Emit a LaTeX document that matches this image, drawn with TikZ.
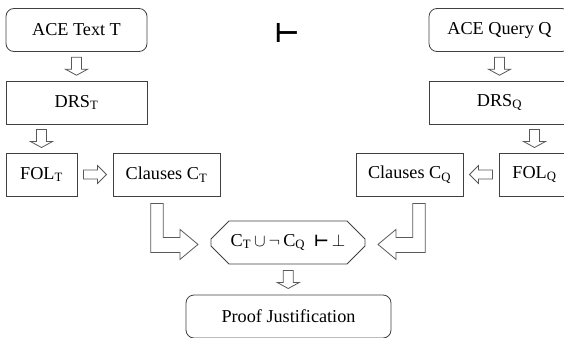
\documentclass[tikz,border=0pt]{standalone}
\usepackage{fontspec}
\setmainfont{Liberation Serif}
\newfontfamily\symfont{DejaVu Sans}
\usetikzlibrary{calc}
\usetikzlibrary{positioning}
\usetikzlibrary{shapes.misc}

\tikzset{
  box/.style={draw=black!75, line width=0.8pt, inner sep=0pt, minimum height=43, font=\fontsize{18.2}{20}\selectfont},
  rbox/.style={box, rounded corners=8pt},
  blockline/.style={draw=black!65, line width=0.8pt, fill=white},
  pics/hollow/.style n args={4}{code={
    \draw[blockline] (-#1/2,-#2) -- ({#1/2-#4},-#2) -- ({#1/2-#4},-#3) -- (#1/2,0)
      -- ({#1/2-#4},#3) -- ({#1/2-#4},#2) -- (-#1/2,#2) -- cycle;}}
}

\begin{document}
\begin{tikzpicture}[x=1pt,y=-1pt]

\useasboundingbox (0,0) rectangle (564,337);

%%%%%%%%%%%%%%%%%%%%%%%%
%Cote texte T
%%%%%%%%%%%%%%%%%%%%%%%%
\node[rbox, minimum width=141] (aceT) at (76.5,30) {ACE Text T};
\node[box, minimum width=141] (drsT) at (76.5,102.5) {DRS\textsubscript{T}};
\node[box, minimum width=71] (folT) at (41.5,174.5) {FOL\textsubscript{T}};
\node[box, minimum width=107] (clT) at (166.5,174.5) {Clauses C\textsubscript{T}};

%%%%%%%%%%%%%%%%%%%%%%%%
%Cote requete Q
%%%%%%%%%%%%%%%%%%%%%%%%
\node[rbox, minimum width=141] (aceQ) at (499.5,30) {ACE Query Q};
\node[box, minimum width=141] (drsQ) at (499.5,102.5) {DRS\textsubscript{Q}};
\node[box, minimum width=71] (folQ) at (534.5,174.5) {FOL\textsubscript{Q}};
\node[box, minimum width=107] (clQ) at (409.5,174.5) {Clauses C\textsubscript{Q}};

% symbole de deduction
\node[font=\fontsize{27}{30}\selectfont\symfont\bfseries] (turn) at (287,33) {⊢};

% preuve
\node[box, chamfered rectangle, chamfered rectangle xsep=8pt, chamfered rectangle ysep=10pt,
  minimum width=154] (core) at (288,242.5)
  {C\textsubscript{T}\,$\cup$\,$\neg$\,C\textsubscript{Q}\ \ {\fontsize{16}{18}\selectfont\symfont\bfseries ⊢}\,$\perp$};
\node[rbox, minimum width=205] (proof) at (288.5,316.5) {Proof Justification};

%%%%%%%%%%%%%%%%%%%%%%%%
%Fleches creuses
%%%%%%%%%%%%%%%%%%%%%%%%
\pic[rotate=-90] at ($(aceT.south)!0.5!(drsT.north)$) {hollow={18}{5}{11}{6}};
\pic[rotate=-90] at ($(folT.north)!0.5!(folT.north|-drsT.south)$) {hollow={18}{5}{11}{6}};
\pic at ($(folT.east)!0.5!(clT.west)$) {hollow={23}{4.5}{9}{9}};
\pic[rotate=-90] at ($(aceQ.south)!0.5!(drsQ.north)$) {hollow={18}{5}{11}{6}};
\pic[rotate=-90] at ($(folQ.north)!0.5!(folQ.north|-drsQ.south)$) {hollow={18}{5}{11}{6}};
\pic[rotate=180] at ($(folQ.west)!0.5!(clQ.east)$) {hollow={23}{4.5}{9}{9}};
\pic[rotate=-90] at ($(core.south)!0.5!(proof.north)$) {hollow={18}{5}{11}{6}};

% fleches coudees vers la preuve
\coordinate (lt) at ($(clT.south)+(-9.5,7)$);
\coordinate (rt) at ($(clQ.south)+(9.5,7)$);
\draw[blockline] (lt) ++(-6.3,0) -- ++(12.6,0) -- ++(0,34) -- ++(16.7,0) -- ++(0,-8)
  -- ++(18,15) -- ++(-18,15) -- ++(0,-7) -- ++(-29.3,0) -- cycle;
\draw[blockline] (rt) ++(6.3,0) -- ++(-12.6,0) -- ++(0,34) -- ++(-16.7,0) -- ++(0,-8)
  -- ++(-18,15) -- ++(18,15) -- ++(0,-7) -- ++(29.3,0) -- cycle;

\end{tikzpicture}
\end{document}
